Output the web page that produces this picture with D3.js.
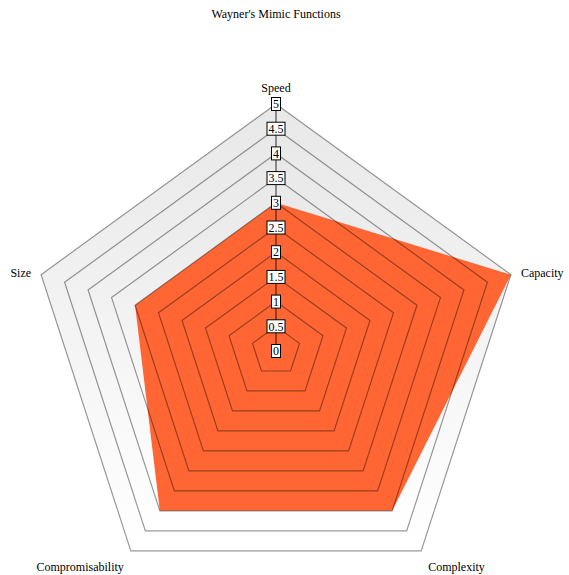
<!DOCTYPE html>
<html>
<head>
<meta charset="utf-8">
<script src="https://cdn.jsdelivr.net/npm/d3@7"></script>
<style>
  body { margin: 0; background: #fff; }
  svg text { font-family: "Liberation Serif", "Times New Roman", serif; font-size: 12px; fill: #000; }
</style>
</head>
<body>
<svg id="chart" width="569" height="575"></svg>
<script>
const title = "Wayner's Mimic Functions"
const axes = ['Speed', 'Capacity', 'Complexity', 'Compromisability', 'Size']
const values = [3, 5, 4, 4, 3]
const ticks = [0, 0.5, 1, 1.5, 2, 2.5, 3, 3.5, 4, 4.5, 5]

const svg = d3.select('#chart')
const cx = 276, cy = 351, R = 247

const r = d3.scaleLinear().domain([0, 5]).range([0, R])
const angle = d3.scalePoint().domain(axes).range([0, 2 * Math.PI * (axes.length - 1) / axes.length])
const pt = (axis, v) => {
  const a = angle(axis) - Math.PI / 2
  return [Math.cos(a) * r(v), Math.sin(a) * r(v)]
}

const defs = svg.append('defs')
const grad = defs.append('linearGradient')
  .attr('id', 'bg').attr('x1', 0).attr('y1', 0).attr('x2', 0).attr('y2', 1)
grad.append('stop').attr('offset', '0%').attr('stop-color', '#e8e8e8')
grad.append('stop').attr('offset', '100%').attr('stop-color', '#ffffff')

svg.append('text')
  .attr('x', 276).attr('y', 18)
  .attr('text-anchor', 'middle')
  .text(title)

const g = svg.append('g').attr('transform', `translate(${cx}, ${cy})`)

const rings = ticks.slice(1).reverse()
const ringPath = (v) => 'M' + axes.map((a) => pt(a, v).join(',')).join('L') + 'Z'

// ring fills
g.selectAll('.ring-fill')
  .data(rings)
  .enter()
  .append('path')
  .attr('class', 'ring-fill')
  .attr('d', ringPath)
  .attr('fill', 'url(#bg)')

// data polygon
g.append('path')
  .attr('d', 'M' + axes.map((a, i) => pt(a, values[i]).join(',')).join('L') + 'Z')
  .attr('fill', '#ff6633')

// ring lines on top
g.selectAll('.ring-line')
  .data(rings)
  .enter()
  .append('path')
  .attr('class', 'ring-line')
  .attr('d', ringPath)
  .attr('fill', 'none')
  .attr('stroke', 'rgba(0,0,0,0.4)')
  .attr('stroke-width', 1.2)

// speed axis
g.append('line')
  .attr('x1', 0).attr('y1', 0)
  .attr('x2', 0).attr('y2', -r(5))
  .attr('stroke', 'rgba(0,0,0,0.55)')
  .attr('stroke-width', 1.5)

// tick boxes
const tick = g.selectAll('.tick')
  .data(ticks)
  .enter()
  .append('g')
  .attr('class', 'tick')
  .attr('transform', (d) => `translate(0, ${-r(d)})`)

tick.append('text')
  .attr('text-anchor', 'middle')
  .attr('dy', '0.35em')
  .text((d) => d)

tick.each(function () {
  const t = d3.select(this).select('text')
  const b = t.node().getBBox()
  d3.select(this).insert('rect', 'text')
    .attr('x', b.x - 1.5).attr('y', -6.5)
    .attr('width', b.width + 3).attr('height', 13)
    .attr('fill', '#fff')
    .attr('stroke', '#000')
    .attr('stroke-width', 1)
})

// axis labels
g.selectAll('.axis-label')
  .data(axes)
  .enter()
  .append('text')
  .attr('class', 'axis-label')
  .attr('x', (d) => {
    const [x] = pt(d, 5)
    if (Math.abs(x) < 1) return 0
    if (d === 'Capacity' || d === 'Size') return x + Math.sign(x) * 10
    return x + Math.sign(x) * 7
  })
  .attr('y', (d) => {
    const [, y] = pt(d, 5)
    if (y < -200) return y - 12
    if (y > 100) return y + 20
    return y + 2
  })
  .attr('text-anchor', (d) => {
    const [x] = pt(d, 5)
    if (Math.abs(x) < 1) return 'middle'
    return x > 0 ? 'start' : 'end'
  })
  .text((d) => d)
</script>
</body>
</html>
